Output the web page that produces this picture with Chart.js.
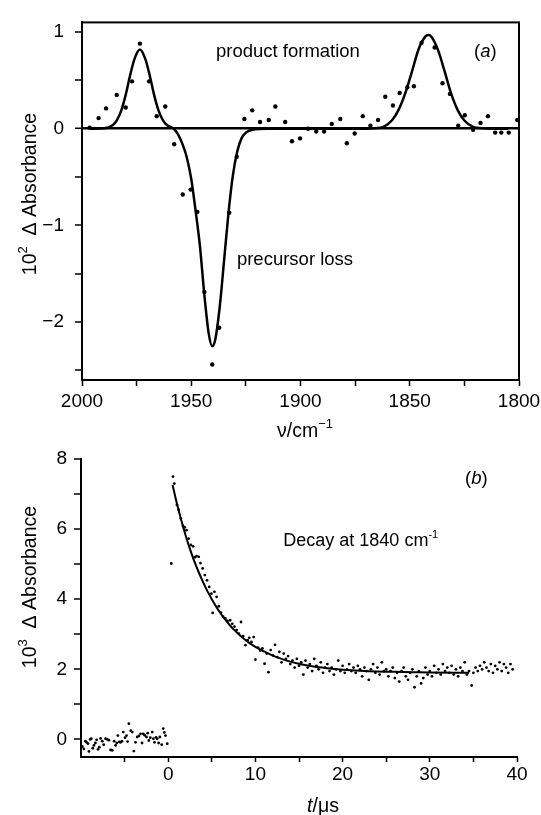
<!DOCTYPE html>
<html>
<head>
<meta charset="utf-8">
<script src="https://cdn.jsdelivr.net/npm/chart.js@4.4.1/dist/chart.umd.min.js"></script>
<style>
    html, body { margin: 0; padding: 0; background: #fff; }
    #wrap { position: relative; width: 541px; height: 815px; }
    .box { position: absolute; left: 0; width: 541px; }
</style>
</head>
<body>
<div id="wrap">
    <div class="box" style="top:0;height:440px"><canvas id="chartSpectrum"></canvas></div>
    <div class="box" style="top:440px;height:375px"><canvas id="chartDecay"></canvas></div>
</div>
<script>
const FONT = "'Liberation Sans', Arial, Helvetica, sans-serif";

// (a) measured difference spectrum
const specNu = [1996.5, 1992.4, 1989.0, 1984.1, 1980.0, 1977.1, 1973.5, 1969.3, 1965.8, 1961.9,
    1957.8, 1953.9, 1950.3, 1947.2, 1944.0, 1940.4, 1937.2, 1932.6, 1929.2, 1925.7,
    1922.1, 1918.5, 1914.5, 1911.5, 1907.0, 1903.9, 1900.2, 1896.5, 1892.8, 1889.2,
    1885.7, 1881.8, 1878.8, 1875.2, 1871.5, 1868.0, 1864.5, 1861.2, 1857.7, 1854.6,
    1851.1, 1848.1, 1844.6, 1838.6, 1835.0, 1831.6, 1827.8, 1824.8, 1821.0, 1817.6,
    1814.2, 1810.9, 1808.1, 1804.7, 1800.8];
const specAbs = [0.01, 0.11, 0.21, 0.35, 0.22, 0.49, 0.88, 0.49, 0.13, 0.23,
    -0.16, -0.68, -0.63, -0.86, -1.69, -2.44, -2.06, -0.87, -0.29, 0.10,
    0.19, 0.07, 0.09, 0.23, 0.07, -0.13, -0.10, 0.00, -0.03, -0.03,
    0.05, 0.10, -0.15, -0.05, 0.13, 0.03, 0.09, 0.33, 0.24, 0.37,
    0.43, 0.44, 0.89, 0.84, 0.47, 0.36, 0.03, 0.14, -0.01, 0.06,
    0.13, -0.04, -0.04, -0.04, 0.09];

// (a) fitted band profile
const fitNu = [1996, 1990, 1986, 1984, 1982, 1980, 1978, 1976, 1973.5, 1971, 1969, 1967, 1965, 1963, 1961, 1958,
    1956, 1954, 1952, 1950, 1948, 1946, 1944, 1942, 1940.4, 1939, 1937, 1935, 1933, 1931, 1929, 1927, 1925, 1922,
    1915, 1890, 1870, 1866, 1862, 1858, 1855, 1852, 1849, 1846, 1843, 1841.5, 1840, 1837, 1834, 1831, 1828, 1825,
    1821, 1817, 1812, 1805];
const fitAbs = [0, 0.004, 0.036, 0.09, 0.19, 0.35, 0.55, 0.72, 0.82, 0.72, 0.55, 0.35, 0.19, 0.09, 0.036, 0,
    -0.06, -0.16, -0.30, -0.52, -0.85, -1.22, -1.72, -2.12, -2.25, -2.18, -1.85, -1.37, -0.88, -0.49, -0.24, -0.10, -0.04, -0.01,
    0, 0, 0, 0.005, 0.02, 0.09, 0.20, 0.37, 0.59, 0.82, 0.95, 0.97, 0.95, 0.81, 0.59, 0.36, 0.19, 0.085,
    0.02, 0.005, 0, 0];

const specTicksX = [1800, 1825, 1850, 1875, 1900, 1925, 1950, 1975, 2000];
const specTicksY = [-2.5, -2, -1.5, -1, -0.5, 0, 0.5, 1];

// (b) transient at 1840 cm-1
const decayT = [-9.85, -9.67, -9.5, -9.36, -9.2, -9.09, -8.95, -8.82, -8.65, -8.52, -8.35, -8.21, -8.05, -7.9, -7.75,
    -7.56, -7.4, -7.18, -6.99, -6.8, -6.6, -6.41, -6.2, -6.04, -5.9, -5.77, -5.6, -5.46, -5.3, -5.15,
    -4.95, -4.78, -4.65, -4.51, -4.3, -4.12, -3.94, -3.75, -3.55, -3.35, -3.17, -3.0, -2.86, -2.7, -2.49,
    -2.35, -2.22, -2.05, -1.83, -1.7, -1.57, -1.4, -1.26, -1.1, -0.96, -0.75, -0.57, -0.45, -0.31, -0.11,
    0.35, 0.55, 0.7, 1.0, 1.2, 1.45, 1.7, 1.9, 2.1, 2.35, 2.6, 2.85, 3.05, 3.25, 3.5, 3.7, 3.95, 4.2, 4.45, 4.7,
    4.95, 5.1, 5.3, 5.55, 5.8, 6.05, 6.3, 6.55, 6.8, 7.1, 7.35, 7.6, 7.85, 8.1, 8.35, 8.6, 8.85, 9.1, 9.3, 9.55,
    9.8, 10.0, 10.3, 10.55, 10.8, 11.05, 11.3, 11.5, 11.75, 12.0, 12.25, 12.5, 12.75, 13.0, 13.25, 13.5, 13.75, 14.0,
    14.25, 14.5, 14.75, 15.0, 15.25, 15.5, 15.75, 16.0, 16.25, 16.5, 16.75, 17.0, 17.25, 17.5, 17.75, 18.0, 18.25,
    18.5, 18.75, 19.0, 19.25, 19.5, 19.75, 20.0, 20.25, 20.5, 20.75, 21.0, 21.25, 21.5, 21.75, 22.0, 22.25, 22.5,
    22.75, 23.0, 23.25, 23.5, 23.75, 24.0, 24.25, 24.5, 24.75, 25.0, 25.25, 25.5, 25.75, 26.0, 26.25, 26.5, 26.75,
    27.0, 27.25, 27.5, 27.75, 28.0, 28.25, 28.5, 28.75, 29.0, 29.25, 29.5, 29.75, 30.0, 30.25, 30.5, 30.75, 31.0,
    31.25, 31.5, 31.75, 32.0, 32.25, 32.5, 32.75, 33.0, 33.25, 33.5, 33.75, 34.0, 34.25, 34.5, 34.8, 35.0, 35.25,
    35.5, 35.75, 36.0, 36.25, 36.5, 36.75, 37.0, 37.25, 37.5, 37.75, 38.0, 38.25, 38.5, 38.75, 39.0, 39.25, 39.5];
const decayAbs = [-0.20, -0.27, -0.05, -0.08, -0.12, -0.34, 0.00, 0.02, -0.25, -0.17, -0.10, -0.01, -0.28, -0.22, 0.03,
    -0.05, -0.15, 0.02, 0.00, -0.02, -0.30, -0.31, -0.05, -0.17, -0.10, 0.11, -0.07, -0.08, -0.05, 0.21,
    0.05, 0.11, -0.06, 0.45, 0.25, 0.21, -0.33, -0.08, 0.07, 0.10, 0.16, -0.10, 0.16, 0.12, 0.07,
    0.18, -0.03, 0.05, 0.21, 0.02, -0.08, 0.06, 0.02, -0.10, 0.07, -0.15, 0.31, 0.20, 0.11, -0.12,
    5.02, 7.50, 7.30, 6.69, 6.55, 6.30, 6.09, 6.05, 5.97, 5.73, 5.55, 5.51, 5.20, 5.23, 5.21, 5.03, 4.88, 4.69, 4.54, 4.35,
    4.16, 3.61, 4.21, 4.07, 3.80, 3.62, 3.50, 3.45, 3.38, 3.40, 3.30, 3.22, 3.12, 3.02, 3.35, 2.95, 2.69, 2.83, 2.90, 2.78,
    2.92, 2.28, 2.62, 2.54, 2.60, 2.16, 2.45, 1.92, 2.55, 2.40, 2.70, 2.35, 2.50, 2.20, 2.45, 2.30, 2.38, 2.15,
    2.25, 2.05, 2.30, 2.10, 2.20, 1.85, 2.25, 2.05, 2.15, 1.95, 2.30, 2.10, 2.00, 2.20, 1.90, 2.05, 2.15,
    1.95, 2.05, 1.85, 2.00, 2.25, 1.95, 2.10, 1.90, 2.00, 2.15, 1.95, 2.05, 1.90, 2.10, 2.00, 1.80, 2.05,
    1.95, 1.70, 2.00, 2.15, 1.90, 2.05, 1.85, 2.20, 1.95, 2.00, 1.80, 1.95, 2.05, 1.75, 1.90, 1.65, 1.95,
    2.05, 1.80, 1.70, 1.90, 2.00, 1.49, 1.80, 1.95, 1.60, 1.75, 2.05, 1.85, 1.95, 1.80, 2.10, 1.90, 2.00,
    1.85, 2.15, 1.95, 2.05, 1.90, 2.10, 1.85, 2.00, 1.80, 2.05, 1.95, 2.20, 1.85, 1.95, 1.54, 1.90, 2.05,
    1.95, 2.10, 2.00, 2.20, 2.05, 1.95, 2.15, 1.90, 2.10, 2.00, 2.20, 1.95, 2.15, 2.05, 1.90, 2.15, 2.00];

// (b) single-exponential fit
const decayFitT = [0.5, 1, 1.5, 2, 2.5, 3, 3.5, 4, 4.5, 5, 5.5, 6, 6.5, 7, 7.5, 8, 8.5, 9, 9.5, 10,
    11, 12, 13, 14, 15, 16, 17, 18, 19, 20, 22, 24, 26, 28, 30, 34.5];
const decayFitAbs = [7.26, 6.73, 6.25, 5.82, 5.43, 5.08, 4.77, 4.49, 4.23, 4.00, 3.79, 3.60, 3.43, 3.28, 3.14, 3.02, 2.91, 2.81, 2.72, 2.64,
    2.51, 2.39, 2.30, 2.22, 2.16, 2.11, 2.07, 2.04, 2.01, 1.99, 1.96, 1.94, 1.93, 1.92, 1.91, 1.90];

const decayTicksX = [-5, 0, 5, 10, 15, 20, 25, 30, 35, 40];
const decayTicksY = [0, 1, 2, 3, 4, 5, 6, 7, 8];

function toPoints(xs, ys) {
    return xs.map((x, i) => ({ x: x, y: ys[i] }));
}

function fmtMinus(v) {
    return v < 0 ? '\u2212' + Math.abs(v) : String(v);
}

// draws a run of text pieces: [text, size, rise, italic]
function drawParts(ctx, parts, x, y, align) {
    const fontOf = p => (p[3] ? 'italic ' : '') + p[1] + 'px ' + FONT;
    let w = 0;
    parts.forEach(p => { ctx.font = fontOf(p); w += ctx.measureText(p[0]).width; });
    let cx = align === 'center' ? x - w / 2 : x;
    parts.forEach(p => {
        ctx.font = fontOf(p);
        ctx.fillText(p[0], cx, y - (p[2] || 0));
        cx += ctx.measureText(p[0]).width;
    });
}

function axisX(ticksList, min, max, reverse, label, tl, pad, h) {
    return {
        type: 'linear', min: min, max: max, reverse: reverse,
        afterBuildTicks: s => { s.ticks = ticksList.map(v => ({ value: v })); },
        afterFit: s => { s.height = h; },
        ticks: {
            autoSkip: false, maxRotation: 0, padding: pad, color: '#000',
            font: { family: FONT, size: 19 },
            callback: v => label(v) ? String(v) : ''
        },
        grid: { drawOnChartArea: false, tickLength: tl, tickColor: '#000', tickWidth: 1.5 },
        border: { display: true, color: '#000', width: 2 }
    };
}

function axisY(ticksList, min, max, label, pad, w, zeroLine) {
    return {
        type: 'linear', min: min, max: max,
        afterBuildTicks: s => { s.ticks = ticksList.map(v => ({ value: v })); },
        afterFit: s => { s.width = w; },
        ticks: {
            autoSkip: false, padding: pad, color: '#000',
            font: { family: FONT, size: 19 },
            callback: v => label(v) ? fmtMinus(v) : ''
        },
        grid: {
            drawOnChartArea: zeroLine,
            color: '#000',
            lineWidth: c => (zeroLine && c.tick && c.tick.value === 0) ? 2.5 : 0,
            tickLength: 7, tickColor: '#000', tickWidth: 1.5
        },
        border: { display: true, color: '#000', width: 2 }
    };
}

const spectrumDecor = {
    id: 'spectrumDecor',
    afterDraw(chart) {
        const ctx = chart.ctx, a = chart.chartArea;
        const xs = chart.scales.x, ys = chart.scales.y;
        ctx.save();
        ctx.strokeStyle = '#000';
        ctx.lineWidth = 2;
        ctx.strokeRect(a.left, a.top, a.right - a.left, a.bottom - a.top);
        ctx.fillStyle = '#000';
        ctx.textBaseline = 'alphabetic';
        drawParts(ctx, [['product formation', 18.5]], xs.getPixelForValue(1938.7), ys.getPixelForValue(0.74));
        drawParts(ctx, [['(', 18.5], ['a', 18.5, 0, true], [')', 18.5]], xs.getPixelForValue(1820.6), ys.getPixelForValue(0.74));
        drawParts(ctx, [['precursor loss', 18.5]], xs.getPixelForValue(1929.1), ys.getPixelForValue(-1.41));
        drawParts(ctx, [['\u03bd/cm', 19.5], ['\u22121', 13, 9]], 305, 437, 'center');
        ctx.translate(36, 194);
        ctx.rotate(-Math.PI / 2);
        drawParts(ctx, [['10', 19.5], ['2', 13, 9], ['  \u0394 Absorbance', 19.5]], 0, 0, 'center');
        ctx.restore();
    }
};

const decayDecor = {
    id: 'decayDecor',
    afterDraw(chart) {
        const ctx = chart.ctx;
        const xs = chart.scales.x, ys = chart.scales.y;
        ctx.save();
        ctx.fillStyle = '#000';
        ctx.textBaseline = 'alphabetic';
        drawParts(ctx, [['(', 18.5], ['b', 18.5, 0, true], [')', 18.5]], xs.getPixelForValue(34.05), ys.getPixelForValue(7.29));
        drawParts(ctx, [['Decay at 1840 cm', 18], ['-1', 11, 8]], xs.getPixelForValue(13.2), ys.getPixelForValue(5.51));
        drawParts(ctx, [['t', 19.5, 0, true], ['/\u03bcs', 19.5]], 323, 372, 'center');
        ctx.translate(36, 147);
        ctx.rotate(-Math.PI / 2);
        drawParts(ctx, [['10', 19.5], ['3', 13, 9], ['  \u0394 Absorbance', 19.5]], 0, 0, 'center');
        ctx.restore();
    }
};

new Chart(document.getElementById('chartSpectrum').getContext('2d'), {
    type: 'scatter',
    data: {
        datasets: [{
            data: toPoints(fitNu, fitAbs),
            showLine: true,
            borderColor: '#000',
            borderWidth: 2.5,
            pointRadius: 0,
            cubicInterpolationMode: 'monotone'
        }, {
            data: toPoints(specNu, specAbs),
            pointRadius: 2.2,
            pointBackgroundColor: '#000',
            pointBorderWidth: 0
        }]
    },
    options: {
        responsive: true,
        maintainAspectRatio: false,
        animation: false,
        layout: { padding: { top: 15, right: 22, left: 0, bottom: 0 } },
        plugins: { legend: { display: false }, tooltip: { enabled: false } },
        scales: {
            x: axisX(specTicksX, 1800, 2000, true, v => v % 50 === 0, 6, 4, 60),
            y: axisY(specTicksY, -2.6, 1.1, v => Number.isInteger(v), 11, 82, true)
        }
    },
    plugins: [spectrumDecor]
});

new Chart(document.getElementById('chartDecay').getContext('2d'), {
    type: 'scatter',
    data: {
        datasets: [{
            data: toPoints(decayFitT, decayFitAbs),
            showLine: true,
            borderColor: '#000',
            borderWidth: 2,
            pointRadius: 0,
            cubicInterpolationMode: 'monotone'
        }, {
            data: toPoints(decayT, decayAbs),
            pointRadius: 1.4,
            pointBackgroundColor: '#000',
            pointBorderWidth: 0
        }]
    },
    options: {
        responsive: true,
        maintainAspectRatio: false,
        animation: false,
        layout: { padding: { top: 19, right: 24, left: 0, bottom: 0 } },
        plugins: { legend: { display: false }, tooltip: { enabled: false } },
        scales: {
            x: axisX(decayTicksX, -10, 40, false, v => v % 10 === 0, 5, 1, 58),
            y: axisY(decayTicksY, -0.5, 8, v => v % 2 === 0, 7, 81, false)
        }
    },
    plugins: [decayDecor]
});
</script>
</body>
</html>
